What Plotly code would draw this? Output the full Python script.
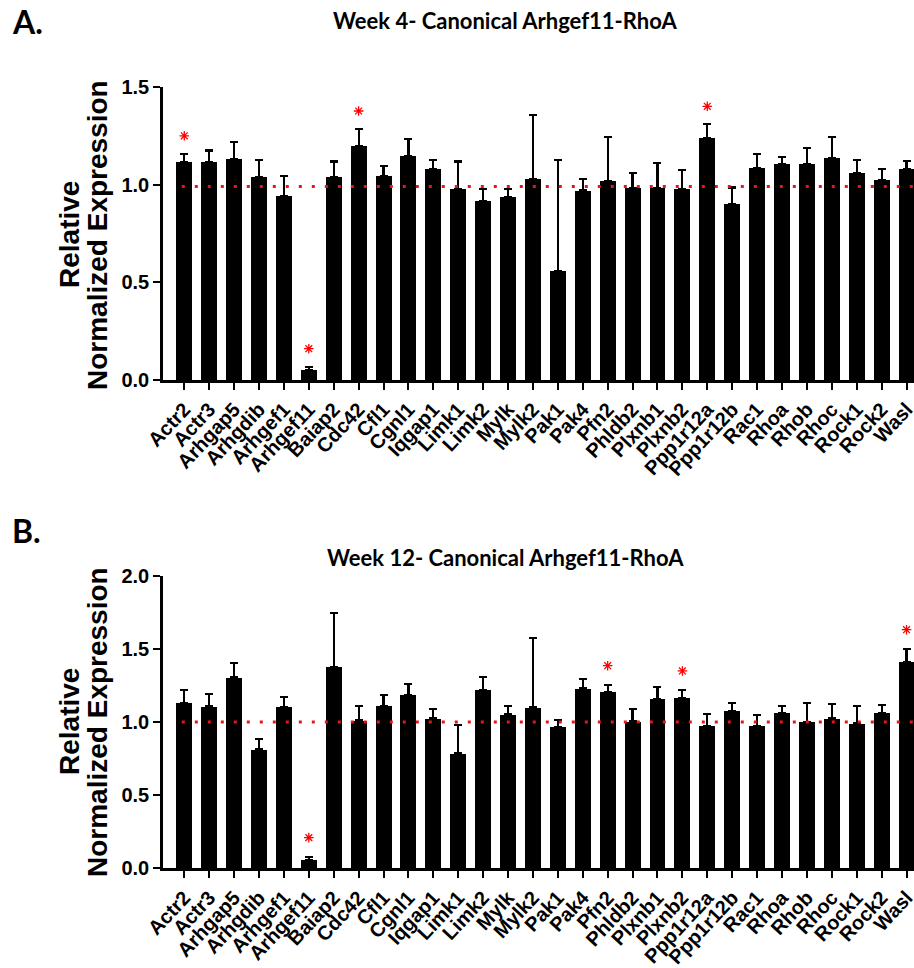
import plotly.graph_objects as go

genes = ["Actr2", "Actr3", "Arhgap5", "Arhgdib", "Arhgef1", "Arhgef11", "Baiap2", "Cdc42",
         "Cfl1", "Cgnl1", "Iqgap1", "Limk1", "Limk2", "Mylk", "Mylk2", "Pak1", "Pak4", "Pfn2",
         "Phldb2", "Plxnb1", "Plxnb2", "Ppp1r12a", "Ppp1r12b", "Rac1", "Rhoa", "Rhob", "Rhoc",
         "Rock1", "Rock2", "Wasl"]

week4_mean = [1.114, 1.114, 1.131, 1.040, 0.940, 0.051, 1.040, 1.196, 1.046, 1.145, 1.081, 0.976,
              0.916, 0.936, 1.030, 0.560, 0.970, 1.020, 0.984, 0.981, 0.976, 1.239, 0.900, 1.083,
              1.104, 1.104, 1.138, 1.059, 1.023, 1.078]
week4_upper = [1.158, 1.175, 1.218, 1.128, 1.044, 0.068, 1.119, 1.285, 1.097, 1.232, 1.126, 1.119,
               0.977, 0.979, 1.358, 1.128, 1.029, 1.244, 1.059, 1.111, 1.076, 1.309, 0.986, 1.155,
               1.140, 1.187, 1.245, 1.126, 1.080, 1.122]
week4_sig = ["Actr2", "Arhgef11", "Cdc42", "Ppp1r12a"]

week12_mean = [1.132, 1.107, 1.305, 0.813, 1.105, 0.059, 1.378, 1.011, 1.112, 1.185, 1.025, 0.786,
               1.219, 1.052, 1.100, 0.968, 1.230, 1.205, 1.005, 1.159, 1.166, 0.973, 1.077, 0.973,
               1.064, 1.000, 1.025, 0.991, 1.064, 1.410]
week12_upper = [1.219, 1.189, 1.403, 0.886, 1.169, 0.080, 1.743, 1.107, 1.185, 1.262, 1.087, 0.982,
                1.308, 1.107, 1.576, 1.014, 1.296, 1.255, 1.089, 1.237, 1.219, 1.052, 1.130, 1.046,
                1.112, 1.130, 1.123, 1.112, 1.118, 1.501]
week12_sig = ["Arhgef11", "Pfn2", "Plxnb2", "Wasl"]

ref_line_4 = 0.99
ref_line_12 = 1.0

titles = ["Week 4- Canonical Arhgef11-RhoA", "Week 12- Canonical Arhgef11-RhoA"]
panel_labels = ["A.", "B."]

W, H = 914, 968
xpos = list(range(len(genes)))
XR = [-0.855, 29.3]

fig = go.Figure()

panels = [
    dict(mean=week4_mean, upper=week4_upper, sig=week4_sig, xa="x", ya="y", ymax=1.5,
         off_px=18, dom=[1 - 380 / H, 1 - 87 / H], ref=ref_line_4),
    dict(mean=week12_mean, upper=week12_upper, sig=week12_sig, xa="x2", ya="y2", ymax=2.0,
         off_px=19, dom=[1 - 868.3 / H, 1 - 575.7 / H], ref=ref_line_12),
]

for i, p in enumerate(panels):
    err = [u - m for u, m in zip(p["upper"], p["mean"])]
    fig.add_trace(go.Bar(
        x=xpos, y=p["mean"], width=0.64,
        marker=dict(color="black", line=dict(width=0)),
        error_y=dict(type="data", array=err, arrayminus=[0] * len(err), symmetric=False,
                     color="black", thickness=2.2, width=4),
        xaxis=p["xa"], yaxis=p["ya"], showlegend=False, hoverinfo="skip", cliponaxis=False))
    plot_h = (p["dom"][1] - p["dom"][0]) * H
    off = p["off_px"] * p["ymax"] / plot_h
    sx = [genes.index(g) for g in p["sig"]]
    sy = [p["upper"][k] + off for k in sx]
    fig.add_trace(go.Scatter(
        x=sx, y=sy, mode="markers",
        marker=dict(symbol="asterisk-open", size=8, color="red",
                    line=dict(color="#ee1c24", width=1.3)),
        xaxis=p["xa"], yaxis=p["ya"], showlegend=False, hoverinfo="skip", cliponaxis=False))
    fig.add_shape(type="line", xref=p["xa"], yref=p["ya"], x0=-0.1, x1=XR[1],
                  y0=p["ref"], y1=p["ref"], layer="above",
                  line=dict(color="#e8141a", width=3, dash="3px,10px"))

axis_common = dict(showline=True, linecolor="black", linewidth=2.5, ticks="outside",
                   tickcolor="black", tickwidth=2, showgrid=False, zeroline=False,
                   ticklabeloverflow="allow")
xdom = [163 / W, 1.0]
xfont = dict(family="Liberation Sans, Arial", size=20, color="black", weight="bold")
yfont = dict(family="Liberation Sans, Arial", size=20, color="black", weight="bold")

fig.update_layout(
    width=W, height=H, margin=dict(l=0, r=0, t=0, b=0),
    paper_bgcolor="white", plot_bgcolor="white", bargap=0,
    xaxis=dict(domain=xdom, range=XR, tickvals=xpos, ticktext=genes, tickangle=-47,
               ticklen=7, tickfont=xfont, anchor="y", automargin=False, **axis_common),
    yaxis=dict(domain=panels[0]["dom"], range=[0, 1.5], tickvals=[0, 0.5, 1.0, 1.5],
               tickformat=".1f", ticklen=7, tickfont=yfont, anchor="x", automargin=False,
               **axis_common),
    xaxis2=dict(domain=xdom, range=XR, tickvals=xpos, ticktext=genes, tickangle=-47,
                ticklen=7, tickfont=xfont, anchor="y2", automargin=False, **axis_common),
    yaxis2=dict(domain=panels[1]["dom"], range=[0, 2.0], tickvals=[0, 0.5, 1.0, 1.5, 2.0],
                tickformat=".1f", ticklen=7, tickfont=yfont, anchor="x2", automargin=False,
                **axis_common),
)

title_font = dict(family="Lato, Open Sans", size=22, color="black", weight="bold")
label_font = dict(family="Lato, Open Sans", size=32, color="black", weight="bold")
ytitle_font = dict(family="Liberation Sans, Arial", size=28, color="black", weight="bold")

title_y = [20, 557]
label_y = [22, 530]
ytitle_center = [235, 722]
for i in range(2):
    fig.add_annotation(text=titles[i], xref="paper", yref="paper", x=506 / W, y=1 - title_y[i] / H,
                       xanchor="center", yanchor="middle", showarrow=False, font=title_font)
    fig.add_annotation(text=panel_labels[i], xref="paper", yref="paper", x=10 / W,
                       y=1 - label_y[i] / H, xanchor="left", yanchor="middle", showarrow=False,
                       font=label_font)
    fig.add_annotation(text="Relative", xref="paper", yref="paper", x=69 / W,
                       y=1 - ytitle_center[i] / H, xanchor="center", yanchor="middle",
                       textangle=-90, showarrow=False, font=ytitle_font)
    fig.add_annotation(text="Normalized Expression", xref="paper", yref="paper", x=97 / W,
                       y=1 - ytitle_center[i] / H, xanchor="center", yanchor="middle",
                       textangle=-90, showarrow=False, font=ytitle_font)

fig.write_html("out.html", config={"displayModeBar": False},
               post_script="document.body.style.margin='0';document.body.style.overflow='hidden';")
